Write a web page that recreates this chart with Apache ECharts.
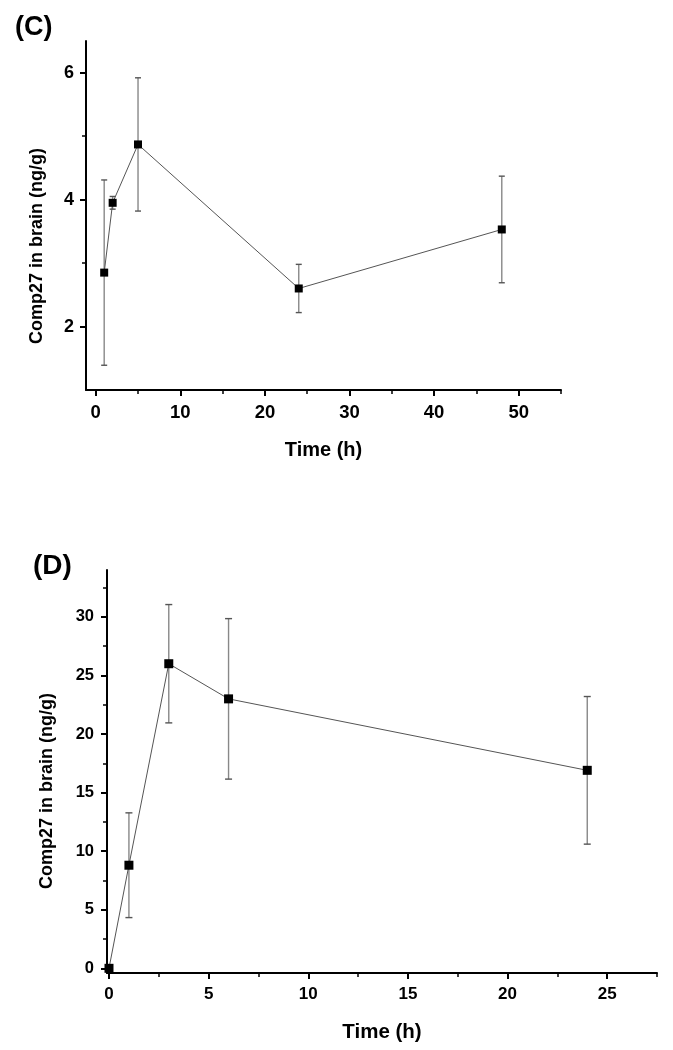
<!DOCTYPE html>
<html>
<head>
<meta charset="utf-8">
<script src="https://cdn.jsdelivr.net/npm/echarts@6/dist/echarts.min.js"></script>
<style>
html,body{margin:0;padding:0;background:#fff;}
#chart{width:673px;height:1050px;}
</style>
</head>
<body>
<div id="chart"></div>
<script>
// Panel C data
const cTime = [1, 2, 5, 24, 48];
const cMean = [2.85, 3.95, 4.87, 2.60, 3.53];
const cErr  = [1.46, 0.10, 1.05, 0.38, 0.84];
// Panel D data
const dTime = [0, 1, 3, 6, 24];
const dMean = [0, 8.8, 26.0, 23.0, 16.9];
const dErr  = [0, 4.47, 5.05, 6.85, 6.3];
// Tick labels
const cXLabels = [0, 10, 20, 30, 40, 50];
const cXMinor  = [5, 15, 25, 35, 45, 55];
const cYLabels = [2, 4, 6];
const cYMinor  = [3, 5];
const dXLabels = [0, 5, 10, 15, 20, 25];
const dXMinor  = [2.5, 7.5, 12.5, 17.5, 22.5, 27.5];
const dYLabels = [0, 5, 10, 15, 20, 25, 30];
const dYMinor  = [2.5, 7.5, 12.5, 17.5, 22.5, 27.5, 32.5];
const xName = 'Time (h)';
const yName = 'Comp27 in brain (ng/g)';
const panelC = '(C)';
const panelD = '(D)';

const FONT = 'Liberation Sans, Arial, sans-serif';
const chart = echarts.init(document.getElementById('chart'), null, {renderer: 'canvas'});

function mainAxis(grid, min, max, labels, labelSize, margin, name, nameGap, nameSize, isX) {
  const ax = {
    type: 'value', gridIndex: grid, min: min, max: max,
    position: isX ? 'bottom' : 'left', offset: 0,
    axisLine: {show: true, onZero: false, lineStyle: {color: '#000', width: 2}},
    axisTick: {show: true, customValues: labels, length: 6, inside: false, lineStyle: {color: '#000', width: 2}},
    axisLabel: {show: true, customValues: labels, fontSize: labelSize, fontWeight: 'bold', color: '#000', fontFamily: FONT, margin: margin},
    splitLine: {show: false}
  };
  if (name) {
    ax.name = name; ax.nameLocation = 'middle'; ax.nameGap = nameGap;
    ax.nameTextStyle = {fontSize: nameSize, fontWeight: 'bold', color: '#000', fontFamily: FONT};
  }
  return ax;
}
function minorAxis(grid, min, max, ticks, isX) {
  return {
    type: 'value', gridIndex: grid, min: min, max: max,
    position: isX ? 'bottom' : 'left', offset: 0,
    axisLine: {show: false, onZero: false},
    axisTick: {show: true, customValues: ticks, length: 4, lineStyle: {color: '#000', width: 1.5}},
    axisLabel: {show: false, customValues: ticks},
    splitLine: {show: false}
  };
}

function errRender(capW) {
  return function (params, api) {
    const x = api.value(0), y = api.value(1), e = api.value(2);
    if (!e) return null;
    const top = api.coord([x, y + e]);
    const bot = api.coord([x, y - e]);
    const st = {stroke: '#888', lineWidth: 1.4};
    const cs = {stroke: '#555', lineWidth: 1.4};
    return {
      type: 'group',
      children: [
        {type: 'line', shape: {x1: top[0], y1: top[1], x2: bot[0], y2: bot[1]}, style: st},
        {type: 'line', shape: {x1: top[0] - capW, y1: top[1], x2: top[0] + capW, y2: top[1]}, style: cs},
        {type: 'line', shape: {x1: bot[0] - capW, y1: bot[1], x2: bot[0] + capW, y2: bot[1]}, style: cs}
      ]
    };
  };
}

const cPts = cTime.map((t, i) => [t, cMean[i]]);
const cErrPts = cTime.map((t, i) => [t, cMean[i], cErr[i]]);
const dPts = dTime.map((t, i) => [t, dMean[i]]);
const dErrPts = dTime.map((t, i) => [t, dMean[i], dErr[i]]);

const option = {
  backgroundColor: '#fff',
  animation: false,
  grid: [
    {left: 86, top: 41, width: 475, height: 349},
    {left: 107, top: 570, width: 550, height: 403}
  ],
  xAxis: [
    mainAxis(0, -1.15, 55, cXLabels, 18.5, 13, xName, 50, 20, true),
    minorAxis(0, -1.15, 55, cXMinor, true),
    mainAxis(1, -0.1, 27.5, dXLabels, 17, 13, xName, 49, 20.5, true),
    minorAxis(1, -0.1, 27.5, dXMinor, true)
  ],
  yAxis: [
    mainAxis(0, 1, 6.5, cYLabels, 18, 12, null, 0, 0, false),
    minorAxis(0, 1, 6.5, cYMinor, false),
    mainAxis(1, -0.4, 34, dYLabels, 16.5, 13, null, 0, 0, false),
    minorAxis(1, -0.4, 34, dYMinor, false)
  ],
  graphic: [
    {type: 'text', left: 15, top: 14, style: {text: panelC, font: 'bold 27px ' + FONT, fill: '#000'}},
    {type: 'text', left: 33, top: 552, style: {text: panelD, font: 'bold 28px ' + FONT, fill: '#000'}},
    {type: 'text', x: 37, y: 246, rotation: Math.PI / 2,
      style: {text: yName, font: 'bold 18px ' + FONT, fill: '#000', align: 'center', verticalAlign: 'middle'}},
    {type: 'text', x: 47, y: 791, rotation: Math.PI / 2,
      style: {text: yName, font: 'bold 18px ' + FONT, fill: '#000', align: 'center', verticalAlign: 'middle'}}
  ],
  series: [
    {type: 'custom', xAxisIndex: 0, yAxisIndex: 0, data: cErrPts, renderItem: errRender(3), encode: {x: 0, y: 1}, clip: false, z: 2},
    {type: 'line', xAxisIndex: 0, yAxisIndex: 0, data: cPts, symbol: 'rect', symbolSize: 8,
      itemStyle: {color: '#000'}, lineStyle: {color: '#555', width: 1}, z: 3},
    {type: 'custom', xAxisIndex: 2, yAxisIndex: 2, data: dErrPts, renderItem: errRender(3.5), encode: {x: 0, y: 1}, clip: false, z: 2},
    {type: 'line', xAxisIndex: 2, yAxisIndex: 2, data: dPts, symbol: 'rect', symbolSize: 9,
      itemStyle: {color: '#000'}, lineStyle: {color: '#555', width: 1}, z: 3}
  ]
};
chart.setOption(option);
</script>
</body>
</html>
